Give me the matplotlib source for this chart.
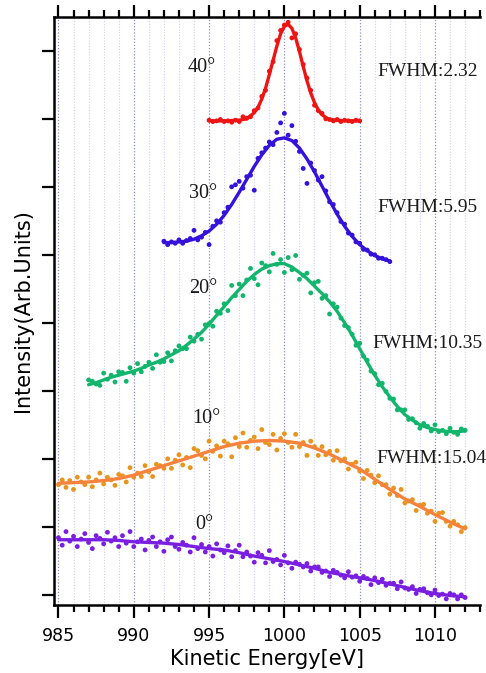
import matplotlib
matplotlib.use("Agg")
import matplotlib.pyplot as plt
import numpy as np
from matplotlib.ticker import MultipleLocator

# ---- data (y in arbitrary offset units) ----
angles = ["0°", "10°", "20°", "30°", "40°"]
fwhm_labels = ["FWHM:15.04", "FWHM:10.35", "FWHM:5.95", "FWHM:2.32"]

# measured points
x0 = np.arange(985, 1012.01, 0.25)
pts0 = [.84, .73, .93, .79, .86, .71, .82, .90, .77, .68,
        .87, .83, .75, .92, .79, .84, .71, .87, .76, .93,
        .71, .78, .82, .66, .80, .85, .71, .78, .64, .81,
        .85, .71, .67, .77, .73, .63, .84, .68, .74, .63,
        .71, .57, .75, .66, .62, .72, .56, .65, .73, .56,
        .63, .57, .48, .62, .58, .47, .65, .49, .52, .44,
        .58, .47, .39, .48, .45, .41, .46, .35, .41, .41,
        .33, .35, .27, .36, .33, .29, .25, .34, .26, .28,
        .20, .27, .24, .15, .25, .18, .23, .14, .17, .17,
        .09, .19, .10, .08, .12, .02, .08, .09, .03, .00,
        .07, -.01, .01, -.06, .02, .00, -.06, .00, -.04]

x10 = np.arange(985, 1012.01, 0.25)
pts10 = [1.62, 1.69, 1.58, 1.68, 1.55, 1.73, 1.66, 1.62, 1.73, 1.59,
         1.69, 1.79, 1.63, 1.73, 1.69, 1.61, 1.77, 1.75, 1.66, 1.87,
         1.73, 1.79, 1.74, 1.90, 1.81, 1.74, 1.92, 1.90, 1.86, 2.00,
         1.86, 1.98, 2.06, 1.91, 2.02, 1.87, 2.15, 2.12, 2.05, 2.00,
         2.26, 2.11, 2.19, 2.04, 2.26, 2.22, 2.03, 2.31, 2.18, 2.38,
         2.17, 2.27, 2.32, 2.15, 2.43, 2.24, 2.21, 2.36, 2.13, 2.30,
         2.37, 2.24, 2.17, 2.36, 2.18, 2.24, 2.05, 2.26, 2.18, 2.05,
         2.18, 2.06, 2.11, 1.98, 2.12, 1.97, 2.00, 1.85, 1.92, 1.95,
         1.82, 1.71, 1.83, 1.76, 1.65, 1.75, 1.62, 1.62, 1.48, 1.57,
         1.46, 1.55, 1.35, 1.38, 1.40, 1.24, 1.32, 1.33, 1.20, 1.23,
         1.08, 1.20, 1.21, 1.08, 1.01, 1.08, 1.03, 0.93, 0.99]

x20 = np.arange(987, 1012.01, 0.25)
pts20 = [3.16, 3.14, 3.10, 3.08, 3.26, 3.17, 3.23, 3.13, 3.28, 3.27,
         3.14, 3.34, 3.26, 3.40, 3.28, 3.36, 3.42, 3.33, 3.53, 3.42,
         3.43, 3.56, 3.44, 3.59, 3.66, 3.62, 3.62, 3.79, 3.73, 3.83,
         3.76, 3.97, 3.99, 3.95, 4.17, 4.14, 4.28, 4.18, 4.55, 4.40,
         4.57, 4.40, 4.63, 4.80, 4.65, 4.56, 4.88, 4.84, 4.75, 5.02,
         4.86, 4.93, 4.74, 4.96, 4.78, 4.99, 4.64, 4.70, 4.73, 4.44,
         4.59, 4.61, 4.36, 4.40, 4.13, 4.28, 4.23, 4.07, 3.96, 3.93,
         3.83, 3.67, 3.70, 3.51, 3.45, 3.29, 3.25, 3.09, 3.11, 2.99,
         2.89, 2.88, 2.72, 2.72, 2.72, 2.58, 2.59, 2.53, 2.45, 2.52,
         2.48, 2.41, 2.50, 2.40, 2.42, 2.37, 2.45, 2.39, 2.36, 2.44, 2.42]

x30 = np.arange(992, 1007.01, 0.25)
pts30 = [5.20, 5.15, 5.19, 5.17, 5.22, 5.17, 5.21, 5.24, 5.36, 5.22,
         5.26, 5.33, 5.15, 5.42, 5.50, 5.48, 5.62, 5.70, 6.00, 6.03,
         6.08, 5.98, 6.15, 6.17, 5.95, 6.42, 6.50, 6.57, 6.66, 6.62,
         6.80, 6.94, 7.08, 6.76, 6.90, 6.67, 6.52, 6.27, 6.05, 6.35,
         6.24, 6.10, 6.15, 5.94, 5.78, 5.74, 5.62, 5.49, 5.45, 5.32,
         5.29, 5.19, 5.17, 5.08, 5.07, 5.01, 5.00, 4.95, 4.95, 4.93, 4.90]

x40 = np.arange(995, 1005.01, 0.25)
pts40 = [6.98, 6.96, 6.97, 6.99, 6.96, 6.97, 6.95, 6.98, 6.96, 7.03,
         7.01, 7.03, 7.12, 7.16, 7.33, 7.42, 7.70, 7.84, 8.15, 8.30,
         8.38, 8.42, 8.19, 8.25, 8.02, 7.80, 7.60, 7.42, 7.20, 7.12,
         7.08, 7.00, 6.99, 6.97, 6.99, 6.96, 6.98, 6.97, 6.96, 6.98, 6.97]

# fitted curves
fit0_x = np.arange(985, 1012.01, 1)
fit0_y = [0.81, 0.81, 0.81, 0.81, 0.80, 0.78, 0.77, 0.76, 0.74, 0.71,
          0.68, 0.66, 0.62, 0.57, 0.53, 0.49, 0.44, 0.39, 0.33, 0.29,
          0.25, 0.21, 0.16, 0.11, 0.06, 0.02, -0.01, -0.03]
fit10_x = np.arange(985, 1012.01, 1)
fit10_y = [1.64, 1.65, 1.66, 1.68, 1.71, 1.76, 1.83, 1.90, 1.97, 2.04,
           2.11, 2.18, 2.23, 2.26, 2.27, 2.26, 2.23, 2.16, 2.07, 1.96,
           1.85, 1.70, 1.55, 1.41, 1.30, 1.18, 1.07, 0.97]
fit20_x = np.arange(987, 1012.01, 0.5)
fit20_y = [3.09, 3.12, 3.16, 3.20, 3.23, 3.26, 3.29, 3.33, 3.38, 3.42,
           3.47, 3.53, 3.59, 3.67, 3.76, 3.86, 3.98, 4.11, 4.24, 4.37,
           4.49, 4.61, 4.71, 4.79, 4.84, 4.87, 4.87, 4.82, 4.74, 4.65,
           4.54, 4.43, 4.31, 4.17, 4.00, 3.82, 3.62, 3.42, 3.23, 3.06,
           2.91, 2.77, 2.65, 2.57, 2.50, 2.46, 2.43, 2.41, 2.40, 2.40, 2.41]
fit30_x = np.arange(992, 1007.01, 0.5)
fit30_y = [5.18, 5.18, 5.19, 5.20, 5.23, 5.28, 5.35, 5.45, 5.58, 5.74,
           5.92, 6.11, 6.30, 6.47, 6.61, 6.70, 6.72, 6.68, 6.57, 6.41,
           6.22, 6.01, 5.80, 5.60, 5.42, 5.27, 5.15, 5.06, 4.99, 4.94, 4.91]
fit40_x = [995, 996, 997, 997.5, 998, 998.25, 998.5, 998.75, 999, 999.25,
           999.5, 999.75, 1000, 1000.25, 1000.5, 1000.75, 1001, 1001.25,
           1001.5, 1001.75, 1002, 1002.25, 1002.5, 1002.75, 1003, 1003.5,
           1004, 1005]
fit40_y = [6.97, 6.97, 6.98, 7.00, 7.09, 7.17, 7.29, 7.45, 7.65, 7.86,
           8.07, 8.25, 8.36, 8.39, 8.33, 8.19, 7.99, 7.77, 7.56, 7.38,
           7.24, 7.13, 7.06, 7.02, 6.99, 6.98, 6.97, 6.97]

series = [
    (x0, pts0, fit0_x, fit0_y, "#7a1fe2", "#7a1fe2"),
    (x10, pts10, fit10_x, fit10_y, "#e8951e", "#f7823c"),
    (x20, pts20, fit20_x, fit20_y, "#12b56c", "#12b56c"),
    (x30, pts30, fit30_x, fit30_y, "#3412dc", "#3412dc"),
    (x40, pts40, fit40_x, fit40_y, "#ee1414", "#ee1414"),
]

fig = plt.figure(figsize=(4.86, 6.73), dpi=100)
ax = fig.add_axes([0.111, 0.101, 0.877, 0.874])

for xs, ys, fx, fy, dot_color, line_color in series:
    ax.scatter(xs, ys, s=12, color=dot_color, edgecolors="none", zorder=3)
    ax.plot(fx, fy, color=line_color, lw=2.4, solid_joinstyle="round",
            solid_capstyle="round", zorder=4)

# angle labels
angle_pos = [(994.7, 1.04), (994.8, 2.59), (994.6, 4.51), (994.6, 5.90), (994.5, 7.75)]
for lab, (tx, ty) in zip(angles, angle_pos):
    ax.text(tx, ty, lab, ha="center", va="center", fontsize=14.5,
            family="Liberation Serif", color="#1a1a1a")

fwhm_pos = [(1006.1, 2.00), (1005.85, 3.69), (1006.2, 5.70), (1006.2, 7.69)]
for lab, (tx, ty) in zip(fwhm_labels, fwhm_pos):
    ax.text(tx, ty, lab, ha="left", va="center", fontsize=14,
            family="Liberation Serif", color="#1a1a1a", clip_on=False)

ax.set_xlim(984.7, 1013.0)
ax.set_ylim(-0.15, 8.5)

ax.xaxis.set_major_locator(MultipleLocator(5))
ax.xaxis.set_minor_locator(MultipleLocator(1))
ax.yaxis.set_major_locator(MultipleLocator(1))
ax.set_yticklabels([])

ax.tick_params(axis="x", which="both", direction="out", top=True, bottom=True,
               labeltop=False, labelsize=12.5, width=1.6, pad=7)
ax.tick_params(axis="x", which="major", length=9)
ax.tick_params(axis="x", which="minor", length=5)
ax.tick_params(axis="y", which="major", direction="out", length=9, width=1.6,
               left=True, right=False)
ax.yaxis.set_tick_params(labelleft=False)

ax.grid(axis="x", which="minor", color="#cfd0ec", linestyle=(0, (1, 1.5)), lw=0.8)
ax.grid(axis="x", which="major", color="#8c8ed0", linestyle=(0, (1, 1.5)), lw=0.9)
ax.set_axisbelow(True)

for side in ["left", "bottom", "top"]:
    ax.spines[side].set_linewidth(1.8)
ax.spines["right"].set_visible(False)

ax.set_xlabel("Kinetic Energy[eV]", fontsize=15, labelpad=3)
ax.set_ylabel("Intensity(Arb.Units)", fontsize=15, labelpad=6)

fig.savefig("out.png", dpi=100)
